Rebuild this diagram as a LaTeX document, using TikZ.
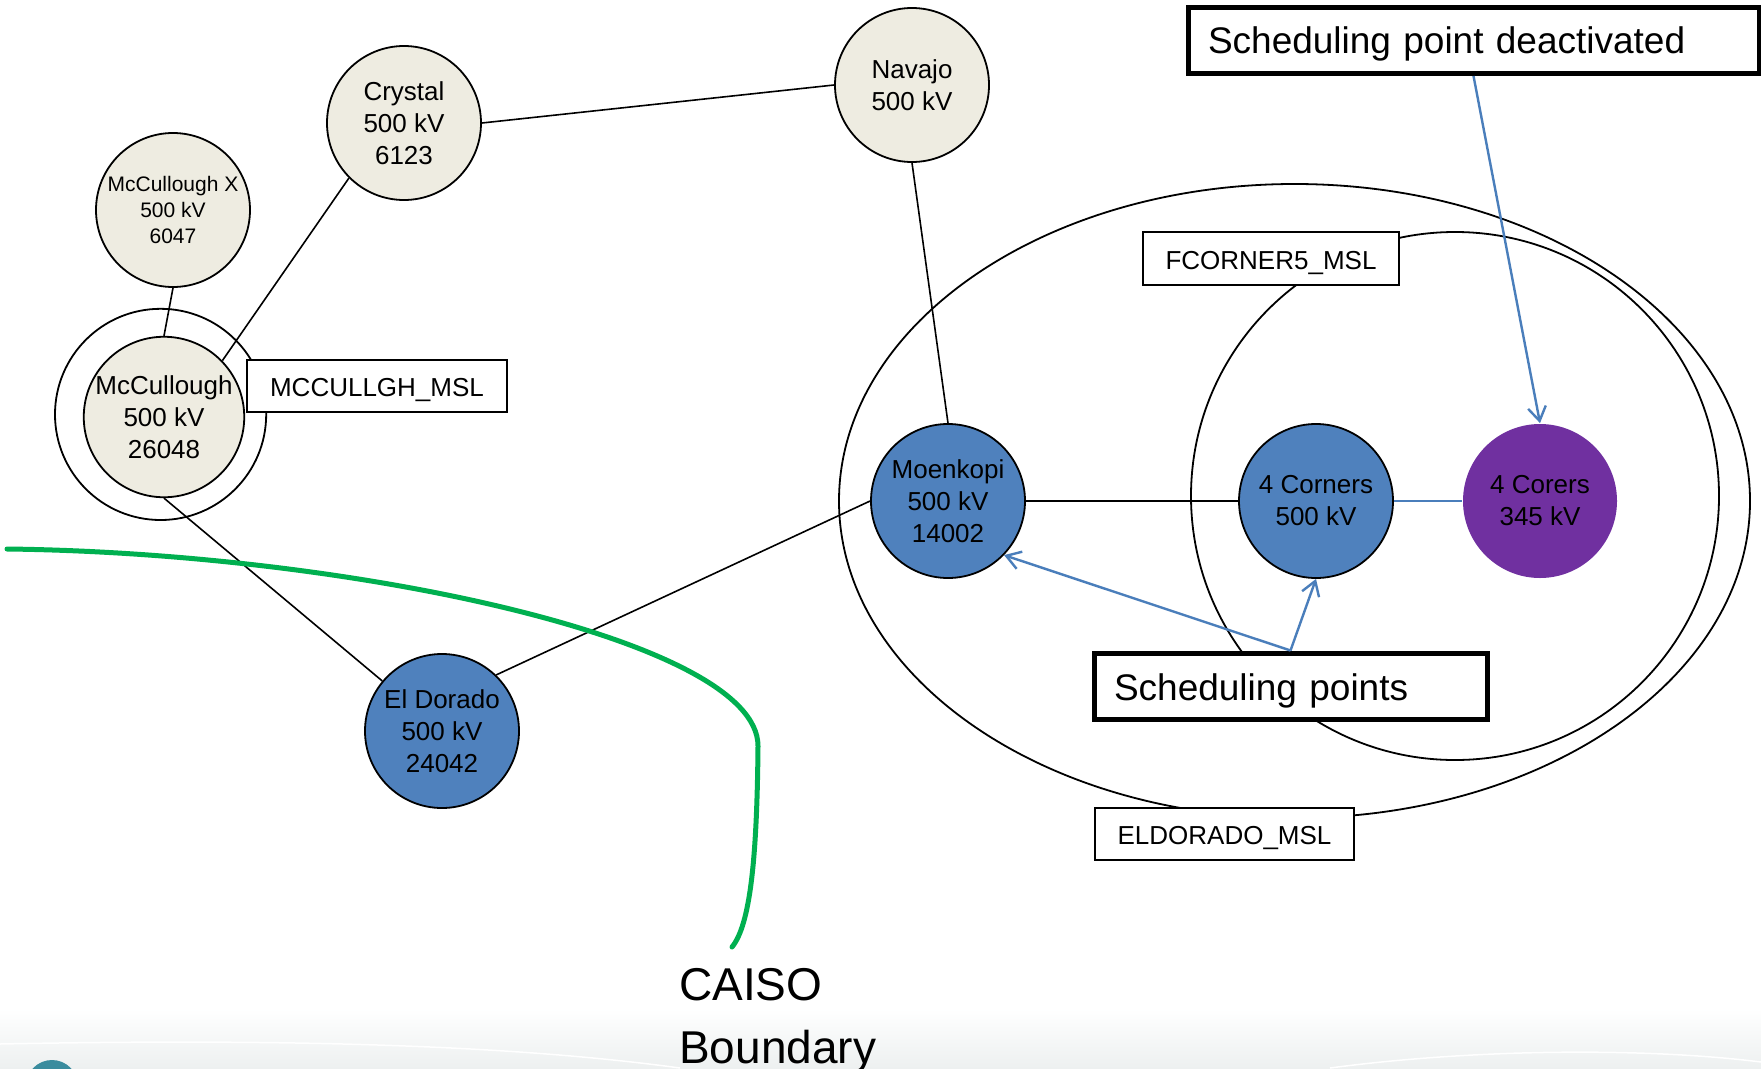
\documentclass[tikz,border=0pt]{standalone}
\usepackage{fontspec}
\setmainfont{Liberation Sans}
\usetikzlibrary{arrows.meta,shapes.geometric}
\definecolor{beigefill}{HTML}{EEECE1}
\definecolor{busblue}{HTML}{4F81BD}
\definecolor{buspurple}{HTML}{7030A0}
\definecolor{arrowcol}{HTML}{4A7EBB}
\definecolor{caisogreen}{HTML}{00B050}
\definecolor{footgray}{HTML}{EDF0F0}
\definecolor{logoteal}{HTML}{3A8C9E}
\begin{document}
\begin{tikzpicture}[x=1pt,y=-1pt,
  every node/.style={font=\fontsize{26}{32}\selectfont, text=black},
  busnode/.style={circle, line width=1.8pt, minimum size=154pt, inner sep=0pt, align=center},
  busgrey/.style={busnode, draw=black, fill=beigefill},
  busbl/.style={busnode, draw=black, fill=busblue},
  buspu/.style={busnode, fill=buspurple},
  link/.style={draw=black, line width=1.6pt},
  zone/.style={draw=black, line width=1.8pt},
  thinbox/.style={draw=black, line width=1.8pt, fill=white, inner sep=0pt, text height=24pt, text depth=3pt},
  thickbox/.style={draw=black, line width=5pt, fill=white, inner xsep=20pt, inner ysep=0pt,
    minimum height=66pt, align=left, font=\fontsize{37}{44}\selectfont},
  pointer/.style={draw=arrowcol, line width=2.4pt, -{Straight Barb[length=14pt,width=18pt]}},
  boundary/.style={draw=caisogreen, line width=5pt, line cap=round}
]
\useasboundingbox (0,0) rectangle (1761,1068);
\clip (0,0) rectangle (1761,1068);
\fill[white] (0,0) rectangle (1761,1068);

% slide footer
\begin{scope}[y=1pt]
  \shade[top color=white, bottom color=footgray] (0,-1068) rectangle (1761,-1008);
\end{scope}
\draw[white, line width=1.5pt] (0,1044) .. controls (300,1038) and (520,1046) .. (680,1068);
\draw[white, line width=1.5pt] (1330,1068) .. controls (1480,1048) and (1650,1048) .. (1761,1062);
\fill[logoteal] (52,1086) circle[radius=26];

% zones
\draw[zone] (1294.5,501) ellipse[x radius=455.5, y radius=317];
\draw[zone] (1455,496) circle[radius=264];
\draw[zone] (160.6,414.4) circle[radius=105.6];

% buses
\node[busgrey] (cr) at (404,123) {Crystal\\500 kV\\6123};
\node[busgrey] (nv) at (912,85) {Navajo\\500 kV};
\node[busgrey, font=\fontsize{21}{26}\selectfont] (mx) at (173,210) {McCullough X\\500 kV\\6047};
\node[busgrey] (mc) at (164,417) {McCullough\\500 kV\\26048};
\node[busbl] (ed) at (442,731) {El Dorado\\500 kV\\24042};
\node[busbl] (mk) at (948,501) {Moenkopi\\500 kV\\14002};
\node[busbl] (fc) at (1316,501) {4 Corners\\500 kV};
\node[buspu] (fp) at (1540,501) {4 Corers\\345 kV};

% lines
\draw[link] (mx.south) -- (mc.north);
\draw[link] (cr.225) -- (mc.44);
\draw[link] (cr.east) -- (nv.west);
\draw[link] (nv.south) -- (mk.north);
\draw[link] (mc.south) -- (ed);
\draw[link] (ed.46) -- (mk.west);
\draw[link] (mk.east) -- (fc.west);
\draw[draw=arrowcol, line width=1.8pt] (fc.east) -- (fp.west);

% labels
\node[thinbox, minimum width=260pt, minimum height=52pt] (mm) at (377,386) {MCCULLGH\_MSL};
\node[thinbox, minimum width=256pt, minimum height=53pt] (f5) at (1271,258.5) {FCORNER5\_MSL};
\node[thinbox, minimum width=259pt, minimum height=52pt] (el) at (1224.5,834) {ELDORADO\_MSL};
\node[thickbox, text width=531pt, text height=33pt, text depth=7pt] (dp) at (1473.5,40.5) {Scheduling point deactivated};
\node[thickbox, text width=353pt, text height=35pt, text depth=7pt] (sp) at (1290.5,686) {Scheduling points};

% pointers
\draw[pointer] (dp.south) -- (fp.north);
\draw[pointer] (sp.north) -- (mk.-44);
\draw[pointer] (sp.north) -- (fc.south);

% CAISO boundary
\draw[boundary] (7,549) .. controls (350,553) and (758,640) .. (758,746)
  .. controls (757,860) and (750,925) .. (732,947);
\node[anchor=north west, inner sep=0pt, align=left, font=\fontsize{46}{63}\selectfont] (caiso) at (679,968) {CAISO\\Boundary};
\end{tikzpicture}
\end{document}
